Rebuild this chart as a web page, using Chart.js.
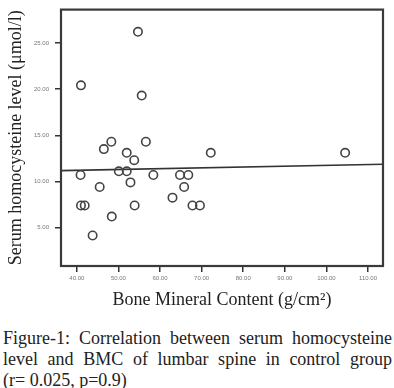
<!DOCTYPE html>
<html><head><meta charset="utf-8">
<script src="https://cdn.jsdelivr.net/npm/chart.js@4"></script>
<style>
html,body{margin:0;padding:0;background:#fff;}
#wrap{position:relative;width:394px;height:318px;}
#cap{width:389px;margin-left:3px;font-family:"Liberation Serif","DejaVu Serif",serif;font-size:18px;line-height:21px;color:#222;text-align:justify;text-align-last:left;margin-top:10px;}
#cap span{white-space:nowrap;}
</style></head>
<body>
<div id="wrap"><canvas id="c" width="394" height="318"></canvas></div>
<div id="cap">Figure-1: Correlation between serum homocysteine level and BMC of lumbar spine in control group <span>(r= 0.025, p=0.9)</span></div>
<script>
const bmc = [54.7,41.0,55.6,48.3,56.6,46.5,52.0,72.2,104.5,53.8,50.1,52.0,40.9,58.4,64.8,66.8,52.9,45.5,65.8,63.0,41.0,41.9,53.9,67.8,69.6,48.4,43.8];
const hcy = [26.2,20.4,19.3,14.3,14.3,13.5,13.1,13.1,13.1,12.3,11.1,11.1,10.7,10.7,10.7,10.7,9.9,9.4,9.4,8.25,7.4,7.4,7.4,7.4,7.4,6.2,4.15];
const fitX = [36.2,113.6];
const fitY = [11.17,11.87];
const xTicks = [40,50,60,70,80,90,100,110];
const yTicks = [5,10,15,20,25];
const xTickLabels = ["40.00","50.00","60.00","70.00","80.00","90.00","100.00","110.00"];
const yTickLabels = ["5.00","10.00","15.00","20.00","25.00"];

const pts = bmc.map((x,i)=>({x:x,y:hcy[i]}));
const fit = fitX.map((x,i)=>({x:x,y:fitY[i]}));

const frame = {
  id:'frame',
  afterDatasetsDraw(chart){
    const a = chart.chartArea, ctx = chart.ctx;
    ctx.save();
    ctx.strokeStyle = '#3a3a3a';
    ctx.lineWidth = 2.2;
    ctx.strokeRect(a.left, a.top, a.right-a.left, a.bottom-a.top);
    ctx.restore();
  }
};
const tickFont = {family:'"Liberation Sans",Arial,sans-serif', size:6};
const titleFont = {family:'"Liberation Serif","DejaVu Serif",serif', size:18};

new Chart(document.getElementById('c'), {
  type:'scatter',
  data:{datasets:[
    {data:pts, pointStyle:'circle', pointRadius:4.2, pointBorderWidth:1.6, borderColor:'#444', backgroundColor:'rgba(255,255,255,0)', pointHoverRadius:4.2},
    {type:'line', data:fit, showLine:true, borderColor:'#333', borderWidth:1.6, pointRadius:0, fill:false}
  ]},
  options:{
    responsive:false, animation:false,
    layout:{padding:{top:5,right:11,left:0,bottom:7}},
    plugins:{legend:{display:false}, tooltip:{enabled:false}},
    scales:{
      x:{type:'linear', min:36.2, max:113.6,
        afterBuildTicks(s){ s.ticks = xTicks.map(v=>({value:v})); },
        afterFit(s){ s.height = 45; },
        ticks:{callback:(v)=>xTickLabels[xTicks.indexOf(v)], font:tickFont, color:'#777', padding:3, maxRotation:0, autoSkip:false},
        grid:{drawOnChartArea:false, drawTicks:true, tickLength:6, color:'#333', lineWidth:1.5},
        border:{display:false},
        title:{display:true, text:'Bone Mineral Content (g/cm²)', font:titleFont, color:'#222', padding:{top:4,bottom:0}}
      },
      y:{type:'linear', min:0.85, max:28.6,
        afterBuildTicks(s){ s.ticks = yTicks.map(v=>({value:v})); },
        afterFit(s){ s.width = 61; },
        ticks:{callback:(v)=>yTickLabels[yTicks.indexOf(v)], font:tickFont, color:'#777', padding:6, autoSkip:false},
        grid:{drawOnChartArea:false, drawTicks:true, tickLength:6, color:'#333', lineWidth:1.5},
        border:{display:false},
        title:{display:true, text:'Serum homocysteine level (μmol/l)', font:titleFont, color:'#222', padding:{top:5,bottom:0}}
      }
    }
  },
  plugins:[frame]
});
</script>
</body></html>
